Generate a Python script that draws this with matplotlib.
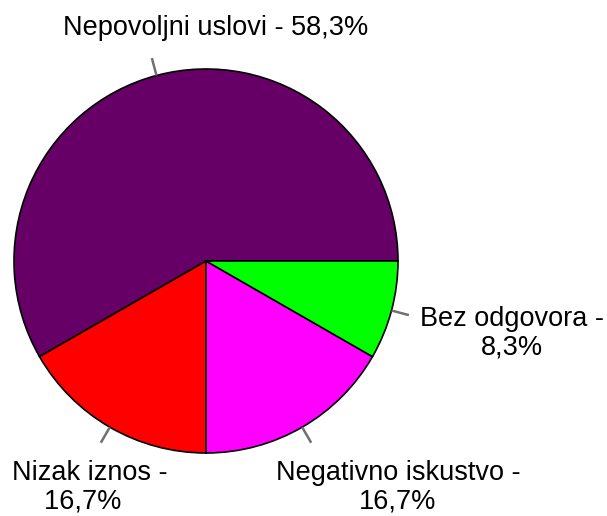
import numpy as np
import matplotlib.pyplot as plt

labels = ["Nepovoljni uslovi - 58,3%", "Nizak iznos -\n16,7%  ",
          "Negativno iskustvo -\n16,7%", "Bez odgovora -\n8,3%"]
shares = [58.3, 16.7, 16.7, 8.3]
colors = ["#660066", "#ff0000", "#ff00ff", "#00ff00"]

# label centres in pixel space of the 607x516 canvas
label_pos = [(216, 488), (90, 29), (398, 29), (512, 183)]

W, H = 607, 516
fig = plt.figure(figsize=(W / 100, H / 100), dpi=100)
ax = fig.add_axes([0, 0, 1, 1])

cx, cy, r = 206, 255, 192
wedges, _ = ax.pie(shares, colors=colors, startangle=0, counterclock=True,
                   center=(cx, cy), radius=r, frame=True,
                   wedgeprops=dict(edgecolor="black", linewidth=1.2))

# short grey leader ticks at the middle of each wedge
for w in wedges:
    mid = np.deg2rad((w.theta1 + w.theta2) / 2)
    ax.plot([cx + r * np.cos(mid), cx + (r + 18) * np.cos(mid)],
            [cy + r * np.sin(mid), cy + (r + 18) * np.sin(mid)],
            color="#707070", lw=1.8, solid_capstyle="butt")

for text, (x, y) in zip(labels, label_pos):
    ax.text(x, y, text, ha="center", va="center", multialignment="center",
            fontsize=19.5, family="Liberation Sans", color="black",
            linespacing=1.12)

ax.set_xlim(0, W)
ax.set_ylim(0, H)
ax.set_aspect("equal")
ax.axis("off")

plt.savefig("out.png", dpi=100)
